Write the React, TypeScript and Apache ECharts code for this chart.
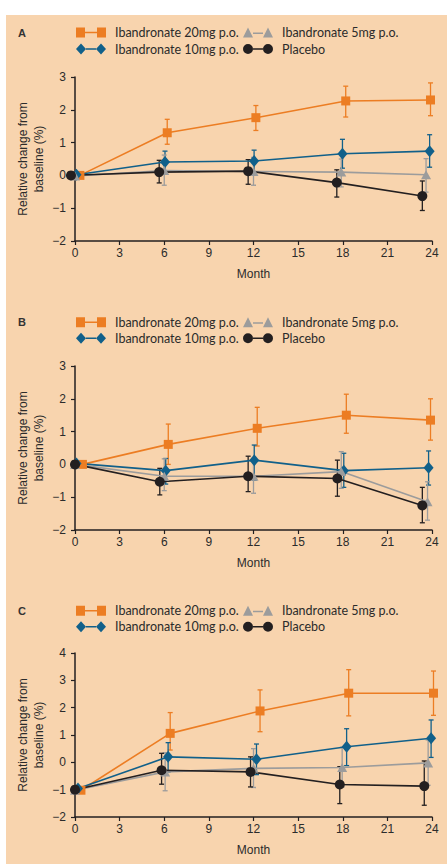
import React, { useEffect, useRef } from 'react';
import * as echarts from 'echarts';

const seriesNames = ['Ibandronate 20mg p.o.', 'Ibandronate 10mg p.o.', 'Ibandronate 5mg p.o.', 'Placebo'];
const seriesColors = ['#EC7D23', '#11608A', '#9C9C9C', '#231F20'];
const panelLabels = ['A', 'B', 'C'];
const xAxisName = 'Month';
const yAxisName = 'Relative change from\nbaseline (%)';
const yMins = [-2, -2, -2];
const yMaxs = [3, 3, 4];

// Panel A: x positions (months, slightly offset as drawn), mean, upper and lower error
const aX20 = [0.33, 6.2, 12.16, 18.2, 23.9];
const aY20 = [0, 1.3, 1.76, 2.27, 2.3];
const aHi20 = [0, 1.71, 2.13, 2.72, 2.82];
const aLo20 = [0, 0.95, 1.37, 1.78, 1.82];
const aX10 = [0.1, 6.05, 12.04, 17.98, 23.84];
const aY10 = [0.02, 0.41, 0.44, 0.66, 0.74];
const aHi10 = [0, 0.74, 0.77, 1.1, 1.24];
const aLo10 = [0, 0.08, 0.11, 0.22, 0.25];
const aX5 = [0, 6.0, 12.0, 17.9, 23.6];
const aY5 = [-0.02, 0.15, 0.12, 0.1, 0.02];
const aHi5 = [0, 0.62, 0.55, 0.5, 0.51];
const aLo5 = [0, -0.3, -0.3, -0.35, -0.51];
const aXP = [-0.27, 5.66, 11.64, 17.6, 23.35];
const aYP = [0, 0.1, 0.13, -0.22, -0.63];
const aHiP = [0, 0.46, 0.48, 0.17, -0.17];
const aLoP = [0, -0.23, -0.27, -0.66, -1.07];

// Panel B
const bX20 = [0.5, 6.27, 12.25, 18.24, 23.9];
const bY20 = [0, 0.61, 1.1, 1.5, 1.35];
const bHi20 = [0, 1.23, 1.74, 2.14, 2.0];
const bLo20 = [0, 0.0, 0.56, 0.95, 0.74];
const bX10 = [0.1, 6.1, 12.05, 18.07, 23.77];
const bY10 = [0.03, -0.19, 0.13, -0.19, -0.1];
const bHi10 = [0, 0.18, 0.59, 0.34, 0.41];
const bLo10 = [0, -0.6, -0.48, -0.7, -0.63];
const bX5 = [0, 6.0, 12.0, 17.9, 23.7];
const bY5 = [0, -0.36, -0.36, -0.22, -1.14];
const bHi5 = [0, 0.17, 0.1, 0.39, -0.53];
const bLo5 = [0, -0.8, -0.88, -0.73, -1.7];
const bXP = [0, 5.7, 11.64, 17.64, 23.35];
const bYP = [0, -0.53, -0.36, -0.43, -1.25];
const bHiP = [0, -0.12, 0.25, 0.13, -0.7];
const bLoP = [0, -0.93, -0.83, -0.97, -1.78];

// Panel C
const cX20 = [0.4, 6.4, 12.44, 18.4, 24.1];
const cY20 = [-1.02, 1.06, 1.88, 2.53, 2.53];
const cHi20 = [0, 1.82, 2.65, 3.39, 3.34];
const cLo20 = [0, 0.45, 1.12, 1.7, 1.72];
const cX10 = [0.2, 6.26, 12.2, 18.26, 23.94];
const cY10 = [-0.96, 0.2, 0.11, 0.57, 0.88];
const cHi10 = [0, 0.72, 0.67, 1.23, 1.55];
const cLo10 = [0, -0.35, -0.45, -0.12, 0.18];
const cX5 = [0, 6.06, 12.0, 17.96, 23.74];
const cY5 = [-1.02, -0.35, -0.22, -0.19, -0.02];
const cHi5 = [0, 0.35, 0.5, 0.55, 0.82];
const cLo5 = [0, -1.04, -0.92, -0.9, -0.84];
const cXP = [0, 5.82, 11.8, 17.8, 23.48];
const cYP = [-1.0, -0.29, -0.35, -0.81, -0.87];
const cHiP = [0, 0.33, 0.2, -0.16, 0.05];
const cLoP = [0, -0.8, -0.9, -1.51, -1.57];

const panels = [
  [[aX20, aY20, aHi20, aLo20], [aX10, aY10, aHi10, aLo10], [aX5, aY5, aHi5, aLo5], [aXP, aYP, aHiP, aLoP]],
  [[bX20, bY20, bHi20, bLo20], [bX10, bY10, bHi10, bLo10], [bX5, bY5, bHi5, bLo5], [bXP, bYP, bHiP, bLoP]],
  [[cX20, cY20, cHi20, cLo20], [cX10, cY10, cHi10, cLo10], [cX5, cY5, cHi5, cLo5], [cXP, cYP, cHiP, cLoP]],
];

// layout
const gridTops = [77, 366, 653];
const gridHeights = [164, 164, 164];
const legendRows = [[32.5, 49], [322.3, 338.3], [610.7, 626.7]];
const FONT = 'Liberation Sans, Arial, sans-serif';
const TEXT_COLOR = '#2b2b2b';

const symbols = ['rect', 'diamond', 'triangle', 'circle'];
const symbolSizes: any[] = [9, [10, 12], [10, 9], 10];
const legendIcons = [
  'path://M0,0h9v10h-9z M21,0h9v10h-9z M9,4.25h12v1.5h-12z',
  'path://M0,5.5L5,0L10,5.5L5,11Z M20,5.5L25,0L30,5.5L25,11Z M10,4.8h10v1.4h-10z',
  'path://M0,10L5,0L10,10Z M20,10L25,0L30,10Z M10,5h10v1.5h-10z',
  'path://M0,5a5,5 0 1,1 10,0a5,5 0 1,1 -10,0z M20,5a5,5 0 1,1 10,0a5,5 0 1,1 -10,0z M10,4.25h10v1.5h-10z',
];
const legendIconHeights = [10, 11, 10, 10];
const legendLefts = [76, 76, 243, 243];
const legendRowIdx = [0, 1, 0, 1];

const fmtNum = (v: number) => (v < 0 ? '\u2212' + Math.abs(v) : String(v));

const errRender = (color: string) => (params: any, api: any) => {
  const x = api.value(0);
  const lo = api.value(1);
  const hi = api.value(2);
  const a = api.coord([x, hi]);
  const b = api.coord([x, lo]);
  const w = 2.5;
  const style = { stroke: color, lineWidth: 1.3 };
  return {
    type: 'group',
    children: [
      { type: 'line', shape: { x1: a[0], y1: a[1], x2: b[0], y2: b[1] }, style },
      { type: 'line', shape: { x1: a[0] - w, y1: a[1], x2: a[0] + w, y2: a[1] }, style },
      { type: 'line', shape: { x1: b[0] - w, y1: b[1], x2: b[0] + w, y2: b[1] }, style },
    ],
  };
};

function buildOption() {
  const grid: any[] = [];
  const xAxis: any[] = [];
  const yAxis: any[] = [];
  const series: any[] = [];
  const legend: any[] = [];
  const graphic: any[] = [
    { type: 'rect', shape: { x: 6, y: 15, width: 441, height: 849 }, style: { fill: '#F8D4AE' }, z: -10 },
  ];
  const axisLineStyle = { color: '#231F20', width: 1.5 };

  panels.forEach((panel, p) => {
    grid.push({ left: 75, width: 357, top: gridTops[p], height: gridHeights[p], containLabel: false, outerBoundsMode: 'none' });
    xAxis.push({
      type: 'value', gridIndex: p, min: 0, max: 24, interval: 3,
      name: xAxisName, nameLocation: 'middle', nameGap: 27, nameMoveOverlap: false,
      nameTextStyle: { fontFamily: FONT, fontSize: 12, color: TEXT_COLOR },
      axisLine: { show: true, onZero: false, lineStyle: axisLineStyle },
      axisTick: { show: true, length: 4, lineStyle: { color: '#231F20', width: 1.2 } },
      axisLabel: { fontFamily: FONT, fontSize: 12, color: TEXT_COLOR, margin: 6 },
      splitLine: { show: false },
    });
    yAxis.push({
      type: 'value', gridIndex: p, min: yMins[p], max: yMaxs[p], interval: 1,
      name: yAxisName, nameLocation: 'middle', nameGap: 28, nameRotate: 90, nameMoveOverlap: false,
      nameTextStyle: { fontFamily: FONT, fontSize: 12, color: TEXT_COLOR, lineHeight: 16 },
      axisLine: { show: true, onZero: false, lineStyle: axisLineStyle },
      axisTick: { show: true, length: 4, lineStyle: { color: '#231F20', width: 1.2 } },
      axisLabel: { fontFamily: FONT, fontSize: 12, color: TEXT_COLOR, margin: 9, formatter: fmtNum },
      splitLine: { show: false },
    });
    panel.forEach((s, k) => {
      const [xs, ys, his, los] = s;
      series.push({
        type: 'custom', name: 'err-' + p + '-' + k, xAxisIndex: p, yAxisIndex: p,
        renderItem: errRender(seriesColors[k]),
        encode: { x: 0, y: [1, 2] },
        data: xs.map((x, i) => [x, los[i], his[i]]).filter((_, i) => i > 0),
        clip: false, silent: true, z: 2,
      });
    });
    panel.forEach((s, k) => {
      const [xs, ys] = s;
      series.push({
        type: 'line', name: seriesNames[k], xAxisIndex: p, yAxisIndex: p,
        data: xs.map((x, i) => [x, ys[i]]),
        symbol: symbols[k], symbolSize: symbolSizes[k], showSymbol: true,
        itemStyle: { color: seriesColors[k], borderWidth: 0 },
        lineStyle: { color: seriesColors[k], width: 1.6 },
        clip: false, silent: true, z: 3,
      });
    });
    seriesNames.forEach((name, k) => {
      legend.push({
        left: legendLefts[k], top: legendRows[p][legendRowIdx[k]] - 7,
        padding: 0, itemGap: 0, itemWidth: 30, itemHeight: legendIconHeights[k],
        symbolKeepAspect: false, selectedMode: false,
        itemStyle: { borderWidth: 0 },
        data: [{ name, icon: legendIcons[k] }],
        textStyle: { fontFamily: 'Lato, sans-serif', fontSize: 12.5, color: TEXT_COLOR, lineHeight: 14, padding: [0, 0, 0, 4] },
      });
    });
    graphic.push({
      type: 'text', left: 18, top: legendRows[p][0] - 7,
      style: { text: panelLabels[p], font: 'bold 11px ' + FONT, fill: '#333', lineHeight: 14 },
    });
  });

  return { animation: false, backgroundColor: '#ffffff', grid, xAxis, yAxis, series, legend, graphic };
}

export default function App() {
  const ref = useRef<HTMLDivElement>(null);
  useEffect(() => {
    if (!ref.current) return;
    const chart = echarts.init(ref.current, undefined, { renderer: 'svg' });
    chart.setOption(buildOption() as any);
    return () => chart.dispose();
  }, []);
  return <div ref={ref} style={{ position: 'absolute', left: 0, top: 0, width: 447, height: 864 }} />;
}
